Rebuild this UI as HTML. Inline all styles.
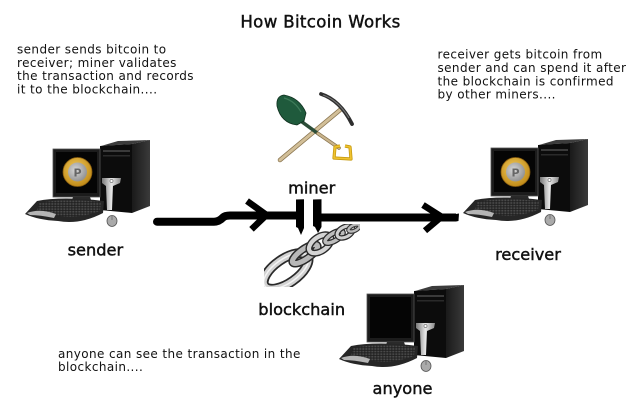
<!DOCTYPE html>
<html>
<head>
<meta charset="utf-8">
<style>
html,body{margin:0;padding:0;background:#fff;}
body{width:640px;height:400px;overflow:hidden;}
svg{display:block;}
.p{font-family:"DejaVu Sans","Liberation Sans",sans-serif;font-size:12px;letter-spacing:0.4px;fill:#111;}
.l{font-family:"DejaVu Sans","Liberation Sans",sans-serif;font-size:16.2px;fill:#111;stroke:#111;stroke-width:0.45px;}
.t{font-family:"DejaVu Sans","Liberation Sans",sans-serif;font-size:16.6px;fill:#111;stroke:#111;stroke-width:0.45px;letter-spacing:0.35px;}
</style>
</head>
<body>
<svg width="640" height="400" viewBox="0 0 640 400" xmlns="http://www.w3.org/2000/svg">
<defs>
  <linearGradient id="side" x1="0" y1="0" x2="1" y2="0">
    <stop offset="0" stop-color="#1a1a1a"/><stop offset="1" stop-color="#3a3a3a"/>
  </linearGradient>
  <linearGradient id="silver" x1="0" y1="0" x2="1" y2="0">
    <stop offset="0" stop-color="#777"/><stop offset="0.5" stop-color="#e8e8e8"/><stop offset="1" stop-color="#888"/>
  </linearGradient>
  <radialGradient id="gold" cx="0.45" cy="0.4" r="0.6">
    <stop offset="0" stop-color="#f6d060"/><stop offset="1" stop-color="#c08a18"/>
  </radialGradient>
  <radialGradient id="coininner" cx="0.4" cy="0.4" r="0.7">
    <stop offset="0" stop-color="#d8d8d8"/><stop offset="1" stop-color="#8a8a8a"/>
  </radialGradient>
  <pattern id="keys" width="3" height="2.6" patternUnits="userSpaceOnUse">
    <rect width="3" height="2.6" fill="#1e1e1e"/>
    <rect x="0.3" y="0.3" width="2.1" height="1.7" fill="#4a4a4a"/>
  </pattern>
  <clipPath id="chainclip"><rect x="264" y="224" width="96" height="63"/></clipPath>

  <g id="pc">
    <!-- tower -->
    <polygon points="101,146 118,141 150,140 132,144" fill="#3c3c3c"/>
    <polygon points="132,144 150,140 150,206 132,213" fill="url(#side)"/>
    <polygon points="100,146 132,144 132,213 100,210" fill="#0c0c0c"/>
    <rect x="103" y="150" width="27" height="2" fill="#3a3a3a"/>
    <rect x="103" y="155" width="27" height="1.5" fill="#2a2a2a"/>
    <polygon points="102,178 121,178 120,183 113,186 112,210 107,210 106,186 102,183" fill="url(#silver)"/>
    <circle cx="111.5" cy="181" r="1.6" fill="#fff" stroke="#333" stroke-width="0.5"/>
    <!-- monitor -->
    <rect x="53" y="149" width="47" height="48" fill="#1c1c1c" stroke="#555" stroke-width="0.8"/>
    <rect x="56" y="152" width="41" height="41" fill="#050505"/>
    <polygon points="73,197 90,197 92,203 71,203" fill="#2a2a2a"/>
    <ellipse cx="82" cy="205" rx="16" ry="3.5" fill="#3a3a3a"/>
    <!-- keyboard -->
    <path d="M25,214 L37,201 Q62,196 104,201 L103,213 Q80,225 58,221 Q38,220 25,214 Z" fill="#262626"/>
    <path d="M39,203 Q62,198 101,202 L100,211 Q78,219 60,216 Q47,215 37,211 Z" fill="url(#keys)"/>
    <path d="M27,213 Q40,208 56,214 L54,218 Q40,215 30,215 Z" fill="#b5b5b5"/>
    <!-- mouse -->
    <ellipse cx="112" cy="221" rx="5" ry="5.5" fill="#aaa" stroke="#555" stroke-width="0.8"/>
    <line x1="112" y1="216" x2="112" y2="220" stroke="#555" stroke-width="0.6"/>
  </g>

  <g id="coin">
    <circle cx="77.5" cy="172" r="14.5" fill="url(#gold)" stroke="#8a5e10" stroke-width="0.8"/>
    <circle cx="77.5" cy="172" r="9.5" fill="url(#coininner)"/>
    <text x="77.5" y="176.5" text-anchor="middle" font-family="DejaVu Sans, sans-serif" font-size="11" font-weight="bold" fill="#666">P</text>
  </g>
</defs>

<rect width="640" height="400" fill="#fff"/>

<!-- title -->
<text class="t" x="320.5" y="27.7" text-anchor="middle">How Bitcoin Works</text>

<!-- left paragraph -->
<text class="p" x="17" y="53.5">sender sends bitcoin to</text>
<text class="p" x="17" y="66.8">receiver; miner validates</text>
<text class="p" x="17" y="80">the transaction and records</text>
<text class="p" x="17" y="93.3">it to the blockchain....</text>

<!-- right paragraph -->
<text class="p" x="437.5" y="58.7">receiver gets bitcoin from</text>
<text class="p" x="437.5" y="72">sender and can spend it after</text>
<text class="p" x="437.5" y="85.3">the blockchain is confirmed</text>
<text class="p" x="437.5" y="98.7">by other miners....</text>

<!-- bottom paragraph -->
<text class="p" x="58" y="358">anyone can see the transaction in the</text>
<text class="p" x="58" y="371">blockchain....</text>

<!-- computers -->
<use href="#pc"/>
<use href="#coin"/>
<use href="#pc" transform="translate(438,-1)"/>
<use href="#coin" transform="translate(438,0)"/>
<use href="#pc" transform="translate(314,145)"/>

<!-- miner icon -->
<line x1="280" y1="160" x2="340" y2="110" stroke="#8a7550" stroke-width="4.5" stroke-linecap="round"/>
<line x1="280" y1="160" x2="340" y2="110" stroke="#d2bf98" stroke-width="3" stroke-linecap="round"/>
<line x1="298" y1="119" x2="320" y2="135" stroke="#2c4d38" stroke-width="3.5" stroke-linecap="round"/>
<line x1="318" y1="133.5" x2="339" y2="148" stroke="#8a7550" stroke-width="3.6" stroke-linecap="round"/>
<line x1="318" y1="133.5" x2="339" y2="148" stroke="#c9b48c" stroke-width="2.2" stroke-linecap="round"/>
<path d="M304,121 L297,125 Q281,123 277,106 Q276,96 284,95 Q300,98 306,113 Z" fill="#1f5a3c" stroke="#10301f" stroke-width="0.8"/>
<path d="M284,98 Q295,101 301,112" stroke="#3d7a58" stroke-width="1.2" fill="none"/>
<path d="M340,146 L335,147 L334,158 L351,159 L350,147 L345,146" fill="none" stroke="#c69a10" stroke-width="3.2" stroke-linejoin="round"/>
<path d="M340,146 L335,147 L334,158 L351,159 L350,147 L345,146" fill="none" stroke="#f0c330" stroke-width="1.6" stroke-linejoin="round"/>
<path d="M321,94 Q340,100 352,124" stroke="#2e2e2e" stroke-width="3.8" fill="none" stroke-linecap="round"/>
<path d="M323,95 Q338,100 349,118" stroke="#777" stroke-width="1" fill="none"/>

<!-- chain -->
<g clip-path="url(#chainclip)" fill="none">
  <ellipse cx="286" cy="271" rx="26" ry="12" transform="rotate(-35 286 271)" stroke="#2a2a2a" stroke-width="10"/>
  <ellipse cx="286" cy="271" rx="26" ry="12" transform="rotate(-35 286 271)" stroke="#d2d2d2" stroke-width="6.5"/>
  <ellipse cx="286" cy="271" rx="26" ry="12" transform="rotate(-35 286 271)" stroke="#f4f4f4" stroke-width="1.5"/>
  <ellipse cx="305" cy="254" rx="15" ry="5" transform="rotate(-35 305 254)" stroke="#2a2a2a" stroke-width="8"/>
  <ellipse cx="305" cy="254" rx="15" ry="5" transform="rotate(-35 305 254)" stroke="#b8b8b8" stroke-width="5"/>
  <ellipse cx="320" cy="244" rx="12.5" ry="7" transform="rotate(-35 320 244)" stroke="#2a2a2a" stroke-width="7"/>
  <ellipse cx="320" cy="244" rx="12.5" ry="7" transform="rotate(-35 320 244)" stroke="#d4d4d4" stroke-width="4.2"/>
  <ellipse cx="334" cy="237" rx="10" ry="3.8" transform="rotate(-30 334 237)" stroke="#2a2a2a" stroke-width="6"/>
  <ellipse cx="334" cy="237" rx="10" ry="3.8" transform="rotate(-30 334 237)" stroke="#bdbdbd" stroke-width="3.5"/>
  <ellipse cx="345" cy="232" rx="8.5" ry="5" transform="rotate(-28 345 232)" stroke="#2a2a2a" stroke-width="5.5"/>
  <ellipse cx="345" cy="232" rx="8.5" ry="5" transform="rotate(-28 345 232)" stroke="#d0d0d0" stroke-width="3"/>
  <ellipse cx="354" cy="228" rx="6" ry="2.8" transform="rotate(-25 354 228)" stroke="#333" stroke-width="4.5"/>
  <ellipse cx="354" cy="228" rx="6" ry="2.8" transform="rotate(-25 354 228)" stroke="#bbb" stroke-width="2.4"/>
</g>

<!-- arrow line -->
<path d="M157,221.7 L214,221.7 Q219,221.7 223,217.5 Q225,215.5 230,215.5 L297,215.5" stroke="#000" stroke-width="8" fill="none" stroke-linecap="round" stroke-linejoin="round"/>
<polyline points="247,201 266.5,215 251.5,229.3" stroke="#000" stroke-width="6.5" fill="none" stroke-linejoin="miter"/>
<polygon points="296,199.5 304,199.3 304,228 301,235 298,228 296,227" fill="#000"/>
<polygon points="313,199.5 321.5,199.3 321.5,227 318,233 315,227 313,226" fill="#000"/>
<path d="M321,217.5 L456,217.5" stroke="#000" stroke-width="8" fill="none"/>
<path d="M456,214 L459,213.5 L458.5,221 L456,221.5 Z" fill="#000"/>
<polyline points="423,205 441.5,216.7 425,230.7" stroke="#000" stroke-width="6.5" fill="none" stroke-linejoin="miter"/>

<!-- labels -->
<text class="l" x="311.7" y="193.3" text-anchor="middle">miner</text>
<text class="l" x="95.4" y="255.7" text-anchor="middle">sender</text>
<text class="l" x="528" y="260" text-anchor="middle">receiver</text>
<text class="l" x="301.7" y="315" text-anchor="middle">blockchain</text>
<text class="l" x="402.5" y="394" text-anchor="middle">anyone</text>
</svg>
</body>
</html>
